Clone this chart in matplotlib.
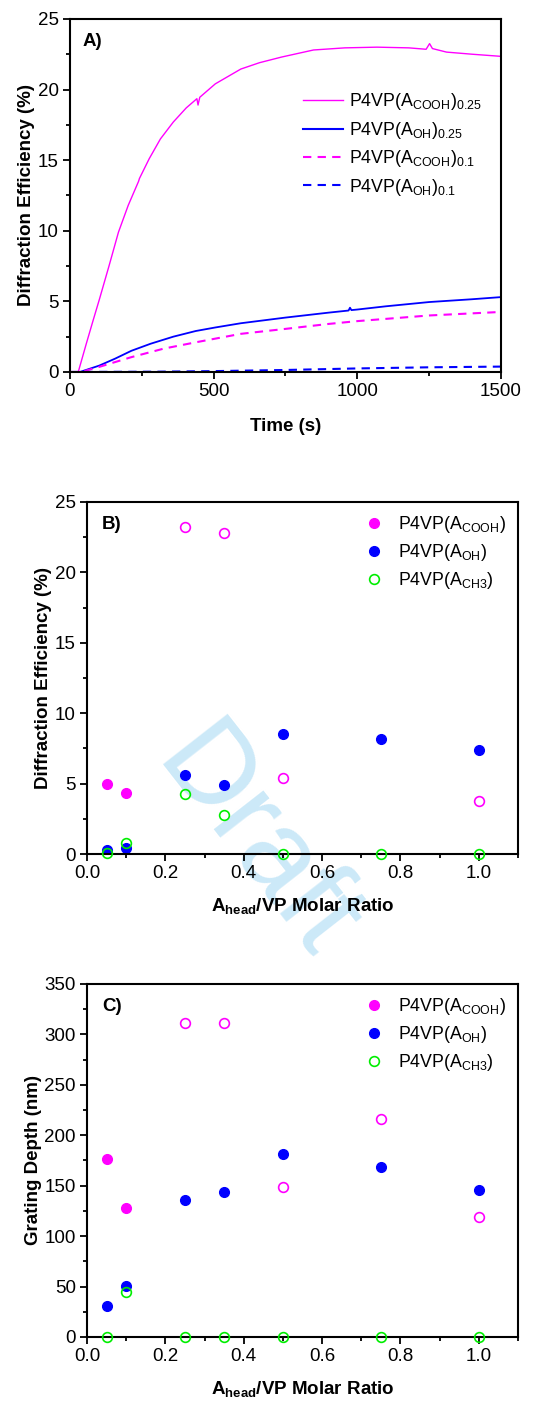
import matplotlib
matplotlib.use('Agg')
import matplotlib.pyplot as plt
from matplotlib.ticker import MultipleLocator
from matplotlib.lines import Line2D

plt.rcParams['font.family'] = ['Liberation Sans', 'DejaVu Sans']
plt.rcParams['mathtext.fontset'] = 'custom'
plt.rcParams['mathtext.rm'] = 'Liberation Sans'
plt.rcParams['mathtext.it'] = 'Liberation Sans'
plt.rcParams['mathtext.bf'] = 'Liberation Sans:bold'

MAG = '#ff00ff'
BLUE = '#0000ff'
GREEN = '#00ee00'

# ---- panel A: kinetics ----
t_cooh25 = [0, 29, 57, 80, 102, 136, 169, 203, 239, 242, 276, 315, 360, 405, 442, 446, 452,
            506, 595, 660, 737, 848, 957, 1069, 1180, 1240, 1252, 1262, 1311, 1400, 1500]
de_cooh25 = [0, 0, 2.0, 3.6, 5.1, 7.5, 9.9, 11.8, 13.5, 13.7, 15.1, 16.5, 17.7, 18.7, 19.35, 18.9, 19.45,
             20.4, 21.45, 21.9, 22.3, 22.8, 22.95, 23.0, 22.95, 22.85, 23.25, 22.9, 22.65, 22.5, 22.35]
t_oh25 = [0, 35, 102, 158, 214, 281, 360, 438, 506, 595, 750, 900, 970, 975, 980,
          1000, 1100, 1250, 1400, 1500]
de_oh25 = [0, 0, 0.45, 0.95, 1.5, 2.0, 2.5, 2.9, 3.15, 3.45, 3.85, 4.2, 4.35, 4.55, 4.38,
           4.42, 4.65, 4.95, 5.15, 5.3]
t_cooh01 = [0, 35, 57, 102, 214, 326, 438, 595, 750, 900, 1000, 1250, 1500]
de_cooh01 = [0, 0, 0.1, 0.36, 1.05, 1.65, 2.1, 2.7, 3.05, 3.4, 3.6, 4.0, 4.25]
t_oh01 = [0, 300, 500, 750, 1000, 1250, 1500]
de_oh01 = [0, 0.02, 0.06, 0.14, 0.25, 0.33, 0.38]

# ---- panels B and C: ratio series ----
ratio = [0.05, 0.1, 0.25, 0.35, 0.5, 0.75, 1.0]
ratio_cooh_fill = [0.05, 0.1]
ratio_cooh_open_b = [0.25, 0.35, 0.5, 1.0]
ratio_cooh_open_c = [0.25, 0.35, 0.5, 0.75, 1.0]

de_cooh_fill = [5.0, 4.3]
de_cooh_open = [23.2, 22.8, 5.4, 3.8]
de_oh = [0.3, 0.4, 5.6, 4.9, 8.5, 8.2, 7.4]
de_ch3 = [0.05, 0.8, 4.25, 2.8, 0.0, 0.0, 0.0]

gd_cooh_fill = [176, 128]
gd_cooh_open = [311, 311, 149, 216, 119]
gd_oh = [31, 51, 136, 144, 181, 169, 146]
gd_ch3 = [0, 45, 0, 0, 0, 0, 0]

TICK_FS = 13.5
LAB_FS = 13.5
LEG_FS = 12.8

fig = plt.figure(figsize=(5.42, 14.01), dpi=100)
axA = fig.add_axes([0.129, 0.7345, 0.795, 0.252])
axB = fig.add_axes([0.1605, 0.3904, 0.795, 0.2513])
axC = fig.add_axes([0.1605, 0.0457, 0.795, 0.252])

for ax in (axA, axB, axC):
    ax.patch.set_visible(False)
    for s in ax.spines.values():
        s.set_linewidth(1.5)
    ax.tick_params(which='both', direction='out', top=False, right=False,
                   labelsize=TICK_FS, width=1.3, pad=3)
    ax.tick_params(which='major', length=5)
    ax.tick_params(which='minor', length=3)

# panel A
axA.plot(t_cooh25, de_cooh25, color=MAG, lw=1.0)
axA.plot(t_oh25, de_oh25, color=BLUE, lw=1.3)
axA.plot(t_cooh01, de_cooh01, color=MAG, lw=1.5, ls=(0, (4, 3)))
axA.plot(t_oh01, de_oh01, color=BLUE, lw=1.5, ls=(0, (4, 3)))
axA.set_xlim(0, 1500)
axA.set_ylim(0, 25)
axA.xaxis.set_major_locator(MultipleLocator(500))
axA.xaxis.set_minor_locator(MultipleLocator(250))
axA.yaxis.set_major_locator(MultipleLocator(5))
axA.yaxis.set_minor_locator(MultipleLocator(2.5))
axA.set_xlabel('Time (s)', fontsize=LAB_FS, fontweight='bold', labelpad=13)
axA.set_ylabel('Diffraction Efficiency (%)', fontsize=LAB_FS, fontweight='bold', labelpad=2)
axA.text(0.03, 0.935, 'A)', transform=axA.transAxes, fontsize=13.5, fontweight='bold', va='center')
hA = [Line2D([], [], color=MAG, lw=1.0),
      Line2D([], [], color=BLUE, lw=1.5),
      Line2D([], [], color=MAG, lw=1.5, ls=(0, (4, 3))),
      Line2D([], [], color=BLUE, lw=1.5, ls=(0, (4, 3)))]
labA = [r'P4VP(A$_{\mathrm{COOH}}$)$_{0.25}$', r'P4VP(A$_{\mathrm{OH}}$)$_{0.25}$',
        r'P4VP(A$_{\mathrm{COOH}}$)$_{0.1}$', r'P4VP(A$_{\mathrm{OH}}$)$_{0.1}$']
axA.legend(hA, labA, loc='upper left', bbox_to_anchor=(0.54, 0.795), frameon=False,
           fontsize=LEG_FS, handlelength=2.3, handletextpad=0.3, labelspacing=0.42,
           borderpad=0, borderaxespad=0)

labBC = [r'P4VP(A$_{\mathrm{COOH}}$)', r'P4VP(A$_{\mathrm{OH}}$)', r'P4VP(A$_{\mathrm{CH3}}$)']
hBC = [Line2D([], [], ls='none', marker='o', ms=7, mfc=MAG, mec=MAG),
       Line2D([], [], ls='none', marker='o', ms=7, mfc=BLUE, mec=BLUE),
       Line2D([], [], ls='none', marker='o', ms=7, mfc='none', mec=GREEN, mew=1.2)]


def scatter_panel(ax, fill_y, open_x, open_y, oh_y, ch3_y):
    ax.plot(ratio_cooh_fill, fill_y, ls='none', marker='o', ms=7, mfc=MAG, mec=MAG)
    ax.plot(open_x, open_y, ls='none', marker='o', ms=7, mfc='none', mec=MAG, mew=1.2)
    ax.plot(ratio, oh_y, ls='none', marker='o', ms=7, mfc=BLUE, mec=BLUE)
    ax.plot(ratio, ch3_y, ls='none', marker='o', ms=7, mfc='none', mec=GREEN, mew=1.2,
            clip_on=False, zorder=4)
    ax.set_xlim(0, 1.1)
    ax.xaxis.set_major_locator(MultipleLocator(0.2))
    ax.xaxis.set_minor_locator(MultipleLocator(0.1))
    ax.set_xticks([0.0, 0.2, 0.4, 0.6, 0.8, 1.0])
    ax.set_xlabel(r'$\mathbf{A_{head}}$/VP Molar Ratio', fontsize=LAB_FS, fontweight='bold', labelpad=10)
    ax.legend(hBC, labBC, loc='upper left', bbox_to_anchor=(0.645, 0.965), frameon=False,
              fontsize=LEG_FS, handlelength=1.0, handletextpad=0.85, labelspacing=0.38,
              borderpad=0, borderaxespad=0)


scatter_panel(axB, de_cooh_fill, ratio_cooh_open_b, de_cooh_open, de_oh, de_ch3)
axB.set_ylim(0, 25)
axB.yaxis.set_major_locator(MultipleLocator(5))
axB.yaxis.set_minor_locator(MultipleLocator(2.5))
axB.set_ylabel('Diffraction Efficiency (%)', fontsize=LAB_FS, fontweight='bold', labelpad=2)
axB.text(0.035, 0.935, 'B)', transform=axB.transAxes, fontsize=13.5, fontweight='bold', va='center')

scatter_panel(axC, gd_cooh_fill, ratio_cooh_open_c, gd_cooh_open, gd_oh, gd_ch3)
axC.set_ylim(0, 350)
axC.yaxis.set_major_locator(MultipleLocator(50))
axC.yaxis.set_minor_locator(MultipleLocator(25))
axC.set_ylabel('Grating Depth (nm)', fontsize=LAB_FS, fontweight='bold', labelpad=2)
axC.text(0.035, 0.935, 'C)', transform=axC.transAxes, fontsize=13.5, fontweight='bold', va='center')

# watermark
fig.text(255 / 542, 1 - 845 / 1401, 'Draft', fontsize=85, color='#cce9f8',
         rotation=-52, ha='center', va='center', zorder=-1)

fig.savefig('out.png', dpi=100)
